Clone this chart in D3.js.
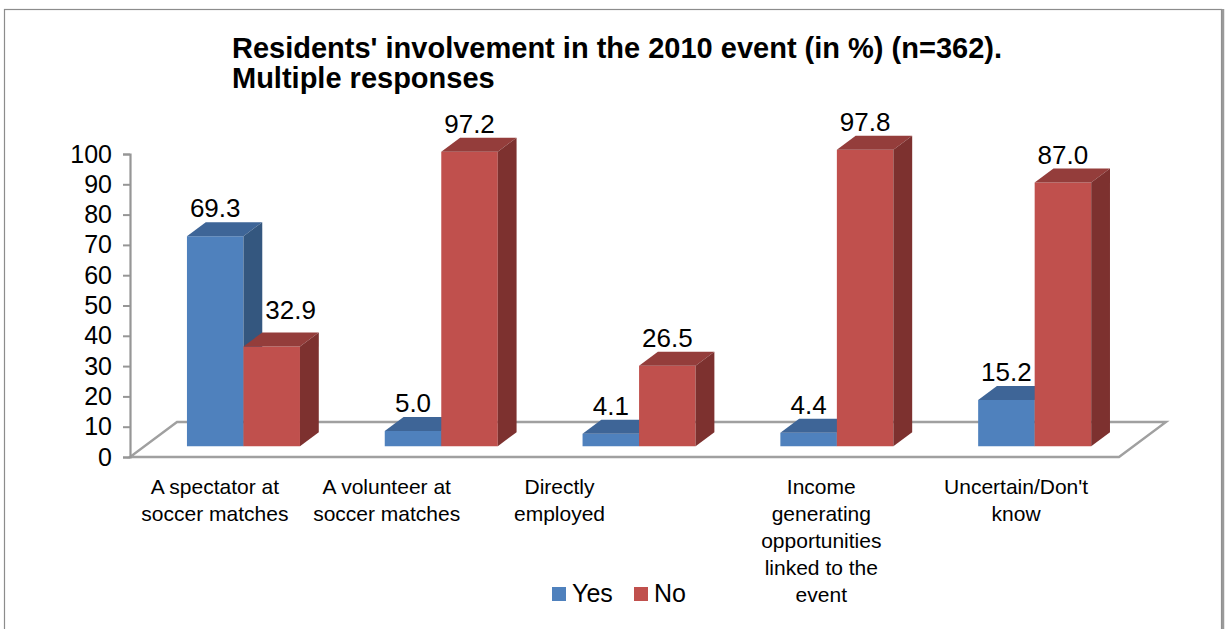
<!DOCTYPE html>
<html>
<head>
<meta charset="utf-8">
<script src="https://cdn.jsdelivr.net/npm/d3@7/dist/d3.min.js"></script>
<style>
  html, body { margin: 0; padding: 0; background: #fff; }
  svg { display: block; font-family: "Liberation Sans", Arial, sans-serif; }
</style>
</head>
<body>
<svg id="chart" width="1225" height="629"></svg>
<script>
// ---- data ----
const categories = [
  "A spectator at soccer matches",
  "A volunteer at soccer matches",
  "Directly employed",
  "Income generating opportunities linked to the event",
  "Uncertain/Don't know"
];
const categoryLines = [
  ["A spectator at", "soccer matches"],
  ["A volunteer at", "soccer matches"],
  ["Directly", "employed"],
  ["Income", "generating", "opportunities", "linked to the", "event"],
  ["Uncertain/Don't", "know"]
];
const seriesNames = ["Yes", "No"];
const yesValues = [69.3, 5.0, 4.1, 4.4, 15.2];
const noValues = [32.9, 97.2, 26.5, 97.8, 87.0];
const yTicks = [0, 10, 20, 30, 40, 50, 60, 70, 80, 90, 100];

// ---- layout ----
const W = 1225, H = 629;
const plot = { left: 130, right: 1119, top: 154, bottom: 457 };
const floorDepth = { dx: 47, dy: 35 };        // oblique depth of the floor
const barFront = 0.31, barDepthFrac = 0.40;   // bar slab position inside the floor depth
const labelNudge = [-14, -40, -65, -1, -4];   // horizontal shift of category labels

const colors = {
  Yes: { front: "#4F81BD", top: "#3E6597", side: "#34577F" },
  No:  { front: "#C0504D", top: "#943D3B", side: "#7D312F" }
};

const svg = d3.select("#chart");

// outer frame
svg.append("rect")
  .attr("x", 4.5).attr("y", 9.5).attr("width", 1217).attr("height", 640)
  .attr("fill", "#fff").attr("stroke", "#8c8c8c").attr("stroke-width", 1.2);
svg.append("line")
  .attr("x1", 1223).attr("x2", 1223).attr("y1", 9).attr("y2", H)
  .attr("stroke", "#9a9a9a").attr("stroke-width", 2.5);

// title
const title = svg.append("text")
  .attr("x", 232).attr("y", 58)
  .attr("font-size", 29).attr("font-weight", "bold").attr("fill", "#000");
title.append("tspan").attr("x", 232).attr("dy", 0)
  .text("Residents' involvement in the 2010 event (in %) (n=362).");
title.append("tspan").attr("x", 232).attr("dy", 30)
  .text("Multiple responses");

// scales
const x = d3.scaleBand().domain(categories).range([plot.left, plot.right]).padding(0);
const xs = d3.scaleBand().domain(seriesNames).range([0, x.bandwidth()])
  .paddingInner(0).paddingOuter(0.75);
const y = d3.scaleLinear().domain([0, 100]).range([plot.bottom, plot.top]);

// floor
const f = floorDepth;
svg.append("path")
  .attr("d", `M${plot.left},${plot.bottom} L${plot.right},${plot.bottom} L${plot.right + f.dx},${plot.bottom - f.dy} L${plot.left + f.dx},${plot.bottom - f.dy} Z`)
  .attr("fill", "#fff").attr("stroke", "#a0a0a0").attr("stroke-width", 2.4)
  .attr("stroke-linejoin", "miter");

// value axis
const axis = d3.axisLeft(y).tickValues(yTicks).tickSize(7).tickPadding(11)
  .tickFormat(d3.format("d"));
const gAxis = svg.append("g").attr("transform", `translate(${plot.left},0)`).call(axis);
gAxis.select(".domain").attr("stroke", "#969696").attr("stroke-width", 2.2);
gAxis.selectAll(".tick line").attr("stroke", "#969696").attr("stroke-width", 2);
gAxis.selectAll(".tick text").attr("font-size", 25).attr("fill", "#000")
  .attr("font-family", "Liberation Sans, Arial, sans-serif");

// bars drawn as oblique boxes
const ox = f.dx * barFront, oy = f.dy * barFront;          // front plane offset
const bdx = f.dx * barDepthFrac, bdy = f.dy * barDepthFrac; // bar depth
const rows = [];
categories.forEach((c, i) => {
  rows.push({ cat: c, s: "Yes", v: yesValues[i], other: noValues[i] });
  rows.push({ cat: c, s: "No", v: noValues[i], other: yesValues[i] });
});

const gBars = svg.append("g");
const labelSize = 26;
rows.forEach(d => {
  const x0 = x(d.cat) + xs(d.s) + ox;
  const x1 = x0 + xs.bandwidth();
  const yb = y(0) - oy;
  const yt = y(d.v) - oy;
  const g = gBars.append("g");
  g.append("path")
    .attr("d", `M${x0},${yb} L${x1},${yb} L${x1},${yt} L${x0},${yt} Z`)
    .attr("fill", colors[d.s].front);
  g.append("path")
    .attr("d", `M${x0},${yt} L${x1},${yt} L${x1 + bdx},${yt - bdy} L${x0 + bdx},${yt - bdy} Z`)
    .attr("fill", colors[d.s].top);
  g.append("path")
    .attr("d", `M${x1},${yb} L${x1 + bdx},${yb - bdy} L${x1 + bdx},${yt - bdy} L${x1},${yt} Z`)
    .attr("fill", colors[d.s].side);
  // value label; pushed right when the taller left neighbour would cover it
  const label = g.append("text")
    .attr("x", (x0 + x1) / 2).attr("y", yt - bdy - 5)
    .attr("text-anchor", "middle").attr("font-size", labelSize).attr("fill", "#000")
    .text(d.v.toFixed(1));
  if (d.s === "No" && d.other > d.v) {
    const w = label.node().getComputedTextLength();
    const minLeft = x0 + bdx + 3;
    const cx = Math.max((x0 + x1) / 2, minLeft + w / 2);
    label.attr("x", cx).attr("y", yt - bdy - 13);
  }
});

// category labels
categories.forEach((c, i) => {
  const cx = x(c) + x.bandwidth() / 2 + labelNudge[i];
  const t = svg.append("text")
    .attr("x", cx).attr("y", 494)
    .attr("text-anchor", "middle").attr("font-size", 21).attr("fill", "#000");
  categoryLines[i].forEach((line, k) => {
    t.append("tspan").attr("x", cx).attr("dy", k === 0 ? 0 : 27).text(line);
  });
});

// legend
const legendX = [552, 634];
seriesNames.forEach((s, i) => {
  svg.append("rect")
    .attr("x", legendX[i]).attr("y", 587).attr("width", 14).attr("height", 14)
    .attr("fill", colors[s].front);
  svg.append("text")
    .attr("x", legendX[i] + 20).attr("y", 602)
    .attr("font-size", 25).attr("fill", "#000").text(s);
});
</script>
</body>
</html>
